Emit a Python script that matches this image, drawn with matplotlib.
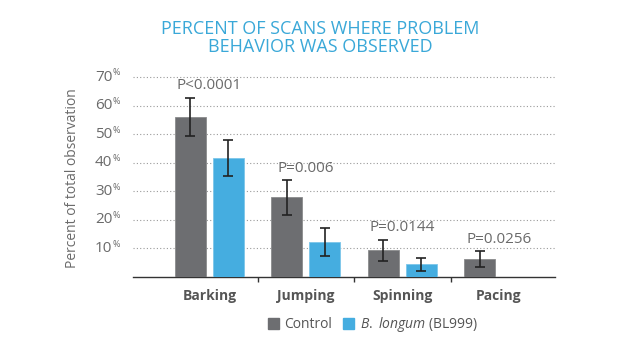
import matplotlib
matplotlib.use("Agg")
import matplotlib.pyplot as plt
from matplotlib.patches import Patch
import numpy as np

plt.rcParams["font.family"] = ["Open Sans", "DejaVu Sans"]
plt.rcParams["mathtext.fontset"] = "custom"
plt.rcParams["mathtext.it"] = "Open Sans:italic"
plt.rcParams["mathtext.rm"] = "Open Sans"

categories = ["Barking", "Jumping", "Spinning", "Pacing"]
control = [56.0, 27.9, 9.4, 6.2]
control_err = [6.8, 6.1, 3.7, 2.8]
longum = [41.6, 12.3, 4.4, 0.0]
longum_err = [6.3, 5.0, 2.4, 0.0]
p_labels = ["P<0.0001", "P=0.006", "P=0.0144", "P=0.0256"]
yticks = [10, 20, 30, 40, 50, 60, 70]

GRAY = "#6d6e71"
BLUE = "#45ade0"
TXT = "#6a6a6a"

fig = plt.figure(figsize=(6.43, 3.52), dpi=100)
ax = fig.add_axes([0.207, 0.213, 0.656, 0.568])

x = np.arange(len(categories))
w = 0.32
off = 0.197
ax.bar(x - off, control, w, color=GRAY, edgecolor="#8a8b8d", linewidth=0.6, zorder=3)
ax.errorbar(x - off, control, yerr=control_err, fmt="none", ecolor="#222222",
            elinewidth=1.2, capsize=3.5, capthick=1.2, zorder=4)
has_b = np.array(longum) > 0
ax.bar(x[has_b] + off, np.array(longum)[has_b], w, color=BLUE, edgecolor="#7cc6ea",
       linewidth=0.6, zorder=3)
ax.errorbar(x[has_b] + off, np.array(longum)[has_b], yerr=np.array(longum_err)[has_b],
            fmt="none", ecolor="#222222", elinewidth=1.2, capsize=3.5, capthick=1.2, zorder=4)

# p-value labels above the tallest error bar of each group
for i, lab in enumerate(p_labels):
    top = max(control[i] + control_err[i], longum[i] + longum_err[i])
    ax.annotate(lab, (x[i], top), xytext=(0, 3), textcoords="offset points",
                ha="center", va="bottom", fontsize=11, color=TXT)

ax.set_xlim(-0.79, 3.58)
ax.set_ylim(0, 70)
for t in yticks:
    ax.axhline(t, color="#9a9a9a", linestyle=(0, (1, 2)), linewidth=0.8, zorder=1, clip_on=False)
    ax.annotate(str(t), (0, t), xycoords=("axes fraction", "data"), xytext=(-15, 0),
                textcoords="offset points", ha="right", va="center", fontsize=11, color=TXT,
                annotation_clip=False)
    ax.annotate("%", (0, t), xycoords=("axes fraction", "data"), xytext=(-15, 3),
                textcoords="offset points", ha="left", va="center", fontsize=6.5, color=TXT,
                annotation_clip=False)

for s in ["top", "right", "left"]:
    ax.spines[s].set_visible(False)
ax.spines["bottom"].set_color("#333333")
ax.spines["bottom"].set_linewidth(1.0)
ax.set_yticks([])
ax.set_xticks([0.5, 1.5, 2.5])
ax.set_xticklabels([])
ax.tick_params(axis="x", length=3.5, width=1, color="#333333")
for i, c in enumerate(categories):
    ax.annotate(c, (x[i], 0), xycoords=("data", "axes fraction"), xytext=(0, -14),
                textcoords="offset points", ha="center", va="center", fontsize=10,
                fontweight="bold", color="#555555", annotation_clip=False)

fig.text(0.113, 0.494, "Percent of total observation", rotation=90, ha="center",
         va="center", fontsize=10, color=TXT)

fig.text(0.498, 0.918, "PERCENT OF SCANS WHERE PROBLEM", ha="center", va="center",
         fontsize=13, color="#3aa8d8")
fig.text(0.498, 0.866, "BEHAVIOR WAS OBSERVED", ha="center", va="center",
         fontsize=13, color="#3aa8d8")

handles = [Patch(color=GRAY), Patch(color=BLUE)]
fig.legend(handles, ["Control", r"$\it{B.\ longum}$ (BL999)"], loc="center",
           bbox_to_anchor=(0.58, 0.077), ncol=2, frameon=False, fontsize=10,
           handlelength=0.8, handleheight=0.8, handletextpad=0.4, columnspacing=0.8,
           labelcolor="#555555")

fig.savefig("out.png", dpi=100)
